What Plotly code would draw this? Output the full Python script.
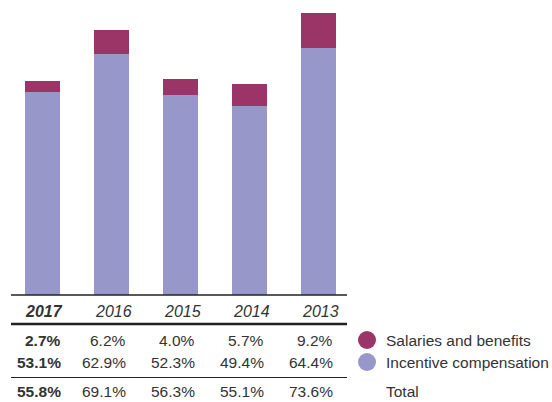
import plotly.graph_objects as go

years = ["2017", "2016", "2015", "2014", "2013"]
salaries = [2.7, 6.2, 4.0, 5.7, 9.2]
incentive = [53.1, 62.9, 52.3, 49.4, 64.4]
totals = [55.8, 69.1, 56.3, 55.1, 73.6]
salaries_lbl = ["2.7%", "6.2%", "4.0%", "5.7%", "9.2%"]
incentive_lbl = ["53.1%", "62.9%", "52.3%", "49.4%", "64.4%"]
total_lbl = ["55.8%", "69.1%", "56.3%", "55.1%", "73.6%"]
legend_names = ["Salaries and benefits", "Incentive compensation", "Total"]

C_SAL = "#9C3567"
C_INC = "#9797C9"
TXT = "#333333"
FONT = "Liberation Sans, Arial, sans-serif"

W, H = 552, 402
PL, PR = 11, 347      # plot area x pixels
PT, PB = 0, 295       # plot area y pixels

x = list(range(len(years)))

fig = go.Figure()
fig.add_trace(go.Bar(x=x, y=incentive, marker_color=C_INC, width=0.51,
                     marker_line_width=0,
                     name=legend_names[1], showlegend=False))
fig.add_trace(go.Bar(x=x, y=salaries, marker_color=C_SAL, width=0.51,
                     marker_line_width=0,
                     name=legend_names[0], showlegend=False))


def py(p):
    return (PB - p) / (PB - PT)


def px(p):
    return (p - PL) / (PR - PL)


ann = []
for i, yr in enumerate(years):
    t = f"<i><b>{yr}</b></i>" if i == 0 else f"<i>{yr}</i>"
    ann.append(dict(x=i + 0.03, y=py(311), xref="x", yref="paper", text=t,
                    showarrow=False, xanchor="center", yanchor="middle",
                    font=dict(size=16, color=TXT, family=FONT)))
    rows = [(salaries_lbl[i], 340), (incentive_lbl[i], 362), (total_lbl[i], 391)]
    for lbl, yy in rows:
        t = f"<b>{lbl}</b>" if i == 0 else lbl
        ann.append(dict(x=i + 0.245, y=py(yy), xref="x", yref="paper", text=t,
                        showarrow=False, xanchor="right", yanchor="middle",
                        xshift=4 if i == 0 else 0,
                        font=dict(size=15.5, color=TXT, family=FONT)))

for name, yy in zip(legend_names, [340, 362, 391]):
    ann.append(dict(x=px(384), y=py(yy), xref="paper", yref="paper", text=name,
                    showarrow=False, xanchor="left", yanchor="middle",
                    font=dict(size=15.5, color=TXT, family=FONT)))

shapes = [
    dict(type="line", xref="paper", yref="paper", x0=0, x1=1, y0=0, y1=0,
         line=dict(color="#222222", width=1.5)),
    dict(type="line", xref="paper", yref="paper", x0=0, x1=1, y0=py(324), y1=py(324),
         line=dict(color="#222222", width=2.5)),
    dict(type="line", xref="paper", yref="paper", x0=0, x1=1, y0=py(377.5), y1=py(377.5),
         line=dict(color="#222222", width=1)),
]
for col, yy in zip([C_SAL, C_INC], [340, 362]):
    shapes.append(dict(type="circle", xref="paper", yref="paper",
                       xsizemode="pixel", ysizemode="pixel",
                       xanchor=px(367), yanchor=py(yy),
                       x0=-9, x1=9, y0=-9, y1=9,
                       fillcolor=col, line=dict(width=0)))

fig.update_layout(
    width=W, height=H,
    margin=dict(l=PL, r=W - PR, t=PT, b=H - PB, pad=0),
    barmode="stack",
    paper_bgcolor="white", plot_bgcolor="white",
    xaxis=dict(range=[-0.4536, 4.416], showticklabels=False, showgrid=False,
               zeroline=False, showline=False, ticks=""),
    yaxis=dict(range=[0, 76.98], showticklabels=False, showgrid=False,
               zeroline=False, showline=False, ticks=""),
    annotations=ann, shapes=shapes,
    showlegend=False,
)

fig.write_html("out.html")
